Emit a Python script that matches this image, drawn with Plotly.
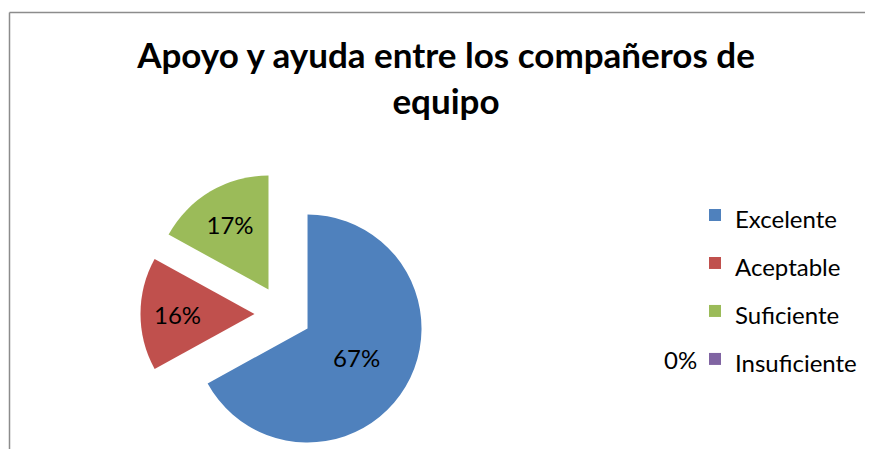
import plotly.graph_objects as go

categories = ["Excelente", "Aceptable", "Suficiente", "Insuficiente"]
values = [67, 16, 17, 0]
colors = ["#4F81BD", "#C0504D", "#9BBB59", "#8064A2"]
title_text = "Apoyo y ayuda entre los compañeros de<br>equipo"

W, H = 873, 449
OFF = 8  # page body margin of the generated html
FONT = "Lato"

legend_labels = [f'<span style="font-size:24px">{c}</span>' for c in categories]

# pie placement (page px): centre (283, 314), radius 114, pull 0.25
cx, cy, side = 283 - OFF, 314 - OFF, 285

fig = go.Figure()
fig.add_trace(go.Pie(
    labels=legend_labels,
    values=values,
    sort=False,
    direction="clockwise",
    rotation=0,
    pull=[0.25] * len(values),
    marker=dict(colors=colors),
    texttemplate="%{percent:.0%}",
    textposition="inside",
    insidetextorientation="horizontal",
    textfont=dict(family=FONT, size=24, color="#000000"),
    hoverinfo="label+percent",
    domain=dict(x=[(cx - side / 2) / W, (cx + side / 2) / W],
                y=[(H - cy - side / 2) / H, (H - cy + side / 2) / H]),
))

zero_idx = categories.index("Insuficiente")
fig.add_annotation(
    text=f"{values[zero_idx]}%", x=(680 - OFF) / W, y=(H - 359 + OFF) / H, xref="paper", yref="paper",
    xanchor="center", yanchor="middle",
    showarrow=False, font=dict(family=FONT, size=24, color="#000000"),
)

fig.update_layout(
    width=W, height=H,
    margin=dict(l=0, r=0, t=0, b=0, autoexpand=False),
    paper_bgcolor="white",
    title=dict(text=title_text, x=438 / W, xanchor="center", y=(H - 60) / H, yanchor="top",
               font=dict(family=FONT, size=35, color="#000000", weight="bold")),
    legend=dict(x=687 / W, xanchor="left", y=(H - 178) / H, yanchor="top",
                font=dict(family=FONT, size=34.6, color="#000000"),
                bgcolor="rgba(0,0,0,0)"),
    shapes=[
        dict(type="line", xref="paper", yref="paper", x0=(9.5 - OFF) / W, x1=1,
             y0=(H - 12.5 + OFF) / H, y1=(H - 12.5 + OFF) / H,
             line=dict(color="#8c8c8c", width=1.5)),
        dict(type="line", xref="paper", yref="paper", x0=(9.5 - OFF) / W, x1=(9.5 - OFF) / W,
             y0=0, y1=(H - 12.5 + OFF) / H,
             line=dict(color="#8c8c8c", width=1.5)),
    ],
)

fig.write_html("out.html")
